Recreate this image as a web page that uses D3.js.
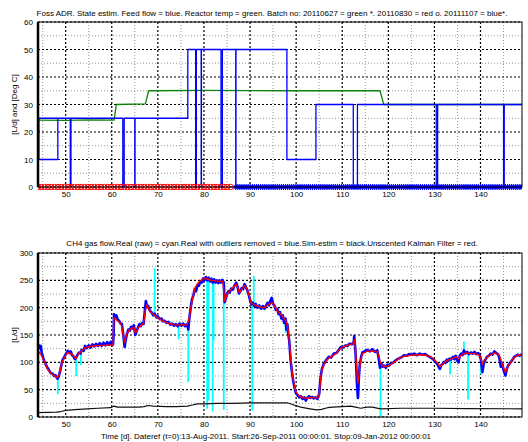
<!DOCTYPE html>
<html>
<head>
<meta charset="utf-8">
<script src="https://cdn.jsdelivr.net/npm/d3@7"></script>
<style>
  body { margin: 0; background: #fff; }
  svg { display: block; }
  text { font-family: "Liberation Sans", Arial, sans-serif; }
</style>
</head>
<body>
<div id="chart"></div>
<script>
////////////////////////////////////////////////////////////////////////
// Data

// time axis [d], shared by both panels
let timeRange = [44, 149];
let xTickValues = [50, 60, 70, 80, 90, 100, 110, 120, 130, 140];
let xMinorValues = [45, 55, 65, 75, 85, 95, 105, 115, 125, 135, 145];

let topYTicks = [0, 10, 20, 30, 40, 50, 60];
let topYMinor = [5, 15, 25, 35, 45, 55];
let botYTicks = [0, 50, 100, 150, 200, 250, 300];
let botYMinor = [25, 75, 125, 175, 225, 275];

// feed flow [L/d] (blue), step signal with short stops
let feedFlow = [
  [44.0, 25], [48.3, 25], [48.3, 10], [44.2, 10], [44.2, 25], [51.0, 25], [51.0, 0], [51.15, 0], [51.15, 25],
  [62.4, 25], [62.4, 0], [62.7, 0], [62.7, 25], [65.0, 25], [65.0, 0], [65.05, 0], [65.05, 25],
  [76.5, 25], [76.5, 50], [78.2, 50], [78.2, 0], [78.35, 0], [78.35, 50], [79.4, 50], [79.4, 0], [79.45, 0], [79.45, 50],
  [83.7, 50], [83.7, 0], [84.0, 0], [84.0, 50], [86.9, 50], [86.9, 0], [86.95, 0], [86.95, 50],
  [98.0, 50], [98.0, 10], [104.3, 10], [104.3, 30], [112.4, 30], [112.4, 0], [113.3, 0], [113.3, 30],
  [130.4, 30], [130.4, 0], [130.7, 0], [130.7, 30], [145.0, 30], [145.0, 0], [145.15, 0], [145.15, 30], [149, 30]
];

// reactor temperature [Deg C] (green)
let reactorTemp = [
  [44, 24.3], [50, 24.2], [55, 24.4], [60.5, 24.3], [61.0, 30], [67.3, 30.2], [68.0, 35],
  [80, 35.1], [100, 35], [118.2, 35], [119.0, 30], [149, 30]
];

// batch periods, marked at zero in the top panel
let batchNames = ["20110627", "20110830", "20111107"];
let batchStart = [null, 44.0, 86.9];
let batchEnd = [null, 86.4, 149];
let batchSample = [0.72, 0.72, 0.45];

// CH4 gas flow, Unscented Kalman Filter (red)
let ukfFlow = [
  [44.0, 0], [44.02, 122], [44.3, 118], [44.6, 115], [45.1, 106], [46.1, 87], [47.2, 77], [48.2, 72], [48.6, 77],
  [49.3, 102], [50.4, 118], [51.4, 115], [51.8, 110], [52.3, 107], [52.8, 116], [53.3, 119], [54.2, 127], [55.3, 129],
  [56.3, 130], [57.5, 131], [58.5, 131], [59.5, 132], [60.3, 131], [60.45, 182], [60.7, 180], [61.3, 176], [61.8, 172],
  [62.1, 169], [62.5, 148], [62.8, 136], [63.2, 151], [63.7, 158], [64.1, 161], [64.8, 164], [65.1, 154], [65.5, 158],
  [65.8, 164], [66.4, 168], [66.9, 172], [67.3, 196], [67.6, 205], [67.9, 200], [68.3, 193], [69.0, 188], [69.7, 183],
  [70.2, 180], [71.1, 176], [72.4, 171], [73.5, 169], [74.5, 168], [75.5, 169], [76.3, 168], [76.8, 181], [77.4, 212],
  [78.1, 237], [78.8, 246], [79.5, 251], [80.2, 254], [80.9, 252], [81.6, 250], [82.4, 249], [83.1, 248], [83.7, 249],
  [84.1, 248], [84.5, 212], [84.8, 220], [85.2, 227], [85.8, 233], [86.3, 237], [87.0, 243], [87.4, 235], [87.7, 227],
  [88.2, 234], [88.8, 240], [89.2, 236], [89.5, 231], [89.9, 220], [90.2, 209], [90.9, 205], [91.6, 203], [92.4, 201],
  [93.1, 200], [93.6, 203], [94.1, 206], [94.9, 209], [95.4, 202], [95.9, 194], [96.5, 189], [97.0, 185], [97.7, 176],
  [98.1, 168], [98.4, 150], [98.8, 108], [99.1, 85], [99.4, 67], [99.9, 47], [100.5, 40], [101.0, 37], [101.8, 35],
  [102.4, 34], [103.1, 36], [103.8, 35], [104.6, 35], [105.0, 40], [105.3, 70], [105.6, 86], [106.0, 96], [106.5, 103],
  [107.1, 108], [108.2, 113], [109.0, 120], [109.7, 126], [110.4, 129], [111.1, 131], [111.8, 133], [112.5, 135],
  [112.7, 142], [112.9, 120], [113.2, 80], [113.4, 62], [113.6, 75], [113.8, 92], [114.1, 108], [114.4, 116], [115.4, 120],
  [116.5, 121], [117.6, 119], [118.0, 110], [118.3, 99], [118.7, 94], [119.1, 92], [119.8, 93], [120.5, 96], [121.2, 100],
  [122.0, 105], [122.7, 109], [123.4, 111], [125.0, 113], [127.0, 114], [128.2, 113], [129.2, 110], [129.8, 106],
  [130.3, 102], [130.8, 97], [131.2, 92], [131.7, 96], [132.1, 99], [132.7, 103], [133.2, 105], [134.2, 108], [134.8, 110],
  [135.2, 106], [135.7, 112], [136.4, 116], [137.1, 117], [137.8, 116], [138.6, 116], [139.3, 115], [140.0, 111],
  [140.4, 96], [140.8, 104], [141.5, 110], [142.2, 114], [143.0, 117], [143.5, 116], [144.0, 114], [144.4, 106],
  [144.7, 96], [145.1, 88], [145.4, 82], [145.9, 92], [146.5, 99], [147.0, 106], [147.6, 111], [148.3, 113], [149.0, 114]
];

// CH4 gas flow, real with outliers removed (blue)
let realFlow = [
  [44.0, 127], [44.2, 131], [44.4, 126], [44.6, 130], [44.8, 118], [45.1, 109], [45.4, 101], [45.8, 94], [46.1, 89],
  [46.5, 84], [46.8, 80], [47.2, 79], [47.5, 75], [47.8, 76], [48.2, 70], [48.5, 74], [48.8, 84], [49.1, 96], [49.3, 104],
  [49.6, 108], [49.9, 113], [50.2, 117], [50.5, 121], [50.8, 117], [51.1, 120], [51.4, 113], [51.7, 111], [52.0, 106],
  [52.3, 109], [52.6, 114], [52.9, 118], [53.2, 116], [53.5, 123], [53.9, 121], [54.2, 130], [54.6, 126], [55.0, 131],
  [55.4, 127], [55.8, 133], [56.2, 129], [56.6, 134], [57.0, 130], [57.4, 135], [57.8, 130], [58.2, 136], [58.6, 131],
  [59.0, 137], [59.4, 132], [59.8, 138], [60.1, 131], [60.3, 134], [60.4, 150], [60.5, 188], [60.7, 183], [61.0, 186],
  [61.3, 178], [61.6, 176], [61.9, 171], [62.2, 170], [62.5, 150], [62.8, 128], [63.0, 140], [63.3, 152], [63.6, 160],
  [63.9, 158], [64.2, 165], [64.5, 162], [64.8, 168], [65.1, 150], [65.4, 157], [65.7, 164], [66.0, 170], [66.3, 166],
  [66.6, 172], [66.9, 170], [67.2, 196], [67.4, 212], [67.6, 204], [67.9, 203], [68.3, 194], [68.6, 192], [69.0, 186],
  [69.3, 189], [69.7, 182], [70.0, 184], [70.4, 179], [70.8, 180], [71.1, 175], [71.5, 176], [71.9, 172], [72.3, 174],
  [72.7, 169], [73.1, 171], [73.5, 167], [73.9, 170], [74.3, 166], [74.7, 171], [75.1, 167], [75.5, 171], [75.9, 166],
  [76.3, 170], [76.6, 160], [76.8, 178], [77.0, 192], [77.2, 204], [77.4, 215], [77.7, 222], [78.0, 234], [78.3, 230],
  [78.6, 242], [78.9, 240], [79.2, 248], [79.5, 246], [79.8, 253], [80.1, 250], [80.4, 256], [80.7, 250], [81.0, 255],
  [81.3, 248], [81.6, 253], [81.9, 246], [82.2, 252], [82.5, 246], [82.8, 250], [83.1, 245], [83.4, 250], [83.7, 246],
  [84.0, 251], [84.3, 246], [84.5, 210], [84.7, 216], [85.0, 224], [85.3, 230], [85.6, 228], [85.9, 235], [86.3, 233],
  [86.6, 240], [87.0, 246], [87.3, 238], [87.6, 226], [87.9, 230], [88.2, 236], [88.5, 234], [88.8, 243], [89.1, 238],
  [89.4, 232], [89.7, 224], [90.0, 214], [90.3, 206], [90.6, 209], [90.9, 203], [91.2, 207], [91.6, 200], [92.0, 204],
  [92.4, 198], [92.8, 203], [93.1, 198], [93.5, 204], [93.8, 209], [94.1, 204], [94.4, 212], [94.7, 218], [95.0, 207],
  [95.3, 204], [95.6, 196], [95.9, 198], [96.2, 188], [96.5, 192], [96.8, 180], [97.1, 186], [97.4, 172], [97.7, 180],
  [97.9, 160], [98.1, 170], [98.3, 152], [98.5, 140], [98.8, 104], [99.1, 82], [99.4, 64], [99.7, 52], [99.9, 45],
  [100.3, 40], [100.7, 36], [101.0, 38], [101.4, 33], [101.8, 36], [102.1, 30], [102.4, 35], [102.8, 38], [103.1, 35],
  [103.5, 37], [103.8, 34], [104.2, 36], [104.6, 33], [105.0, 42], [105.3, 72], [105.6, 88], [106.0, 97], [106.5, 104],
  [107.1, 110], [107.6, 109], [108.2, 116], [108.7, 117], [109.2, 122], [109.7, 128], [110.2, 127], [110.7, 131],
  [111.1, 130], [111.6, 134], [112.1, 133], [112.5, 137], [112.6, 148], [112.8, 128], [113.0, 100], [113.2, 60],
  [113.4, 35], [113.6, 70], [113.8, 95], [114.1, 110], [114.4, 118], [114.8, 120], [115.4, 123], [116.0, 120],
  [116.5, 124], [117.1, 119], [117.6, 122], [117.9, 108], [118.2, 90], [118.5, 98], [118.8, 92], [119.1, 94], [119.5, 90],
  [119.8, 96], [120.2, 94], [120.5, 98], [121.0, 99], [121.5, 103], [122.0, 106], [122.5, 108], [123.0, 110], [123.4, 113],
  [124.0, 112], [124.5, 115], [125.0, 114], [125.6, 116], [126.2, 113], [126.8, 116], [127.4, 114], [128.0, 115],
  [128.5, 112], [129.0, 110], [129.5, 107], [129.9, 104], [130.3, 100], [130.7, 96], [131.0, 90], [131.2, 88], [131.5, 95],
  [131.8, 97], [132.1, 101], [132.4, 99], [132.7, 105], [133.0, 103], [133.3, 107], [133.6, 105], [134.0, 110], [134.3, 106],
  [134.6, 112], [134.9, 104], [135.2, 100], [135.5, 112], [135.8, 116], [136.1, 113], [136.4, 122], [136.7, 116],
  [137.1, 119], [137.5, 115], [137.9, 118], [138.3, 116], [138.7, 119], [139.1, 115], [139.5, 117], [139.8, 113],
  [140.1, 105], [140.4, 82], [140.7, 98], [141.0, 104], [141.4, 110], [141.8, 112], [142.2, 116], [142.6, 114],
  [143.0, 120], [143.4, 117], [143.8, 115], [144.1, 108], [144.4, 92], [144.7, 98], [145.0, 86], [145.4, 76], [145.7, 88],
  [146.0, 94], [146.5, 100], [146.9, 104], [147.3, 110], [147.7, 112], [148.1, 114], [148.5, 112], [149.0, 115]
];

// raw outliers (cyan): [time, flow before, outlier value]
let rawOutliers = [
  [48.3, 72, 42], [52.3, 108, 75], [53.3, 117, 95], [69.3, 187, 272], [74.5, 168, 142], [76.6, 166, 64],
  [80.7, 254, 15], [81.0, 253, 30], [81.9, 250, 10], [82.1, 250, 140], [84.3, 248, 13], [90.5, 212, 12],
  [90.8, 205, 258], [97.7, 180, 154], [113.5, 60, 34], [118.3, 95, 0], [133.4, 105, 78], [136.4, 118, 138],
  [137.3, 118, 32], [140.1, 108, 78], [145.3, 82, 74]
];

// simulated estimate (black)
let simFlow = [
  [44, 8], [46, 8.5], [48, 9], [49, 10], [50, 12], [52, 13.5], [54.7, 15], [57, 16], [59.8, 17], [60.5, 20], [61.2, 18],
  [63, 18], [66, 18], [67, 19], [67.8, 21], [69, 20], [72, 19], [74, 19], [76.4, 20], [77.5, 22], [78.6, 24], [80, 24],
  [82.9, 25], [86.5, 25], [90, 26], [95, 26], [98.1, 26], [99.5, 22], [101, 18], [103, 15], [104.5, 13], [105.5, 14],
  [106.8, 17], [108, 18], [111.8, 20], [112.9, 18], [114, 16], [115.4, 18], [116.5, 18], [118.3, 15], [122.7, 16],
  [130, 16], [137.1, 15.5], [149, 15]
];

let topTitle = "Foss ADR. State estim. Feed flow = blue. Reactor temp = green. Batch no: 20110627 = green *. 20110830 = red o. 20111107 = blue*.";
let botTitle = "CH4 gas flow.Real (raw) = cyan.Real with outliers removed = blue.Sim-estim = black.Unscented Kalman Filter = red.";
let xLabel = "Time [d]. Dateref (t=0):13-Aug-2011. Start:26-Sep-2011 00:00:01. Stop:09-Jan-2012 00:00:01";

////////////////////////////////////////////////////////////////////////
// Layout and helpers

let svgW = 528, svgH = 442;
let plotLeft = 38, plotRight = 522;

let svg = d3.select("#chart")
  .append("svg")
  .attr("width", svgW)
  .attr("height", svgH);

let clipCount = 0;

// builds one panel: grid, tick labels, clip area; returns scales and data group
function createPanel(top, bottom, yMax, yTicks, yMinor) {
  let x = d3.scaleLinear().domain(timeRange).range([plotLeft, plotRight]);
  let y = d3.scaleLinear().domain([0, yMax]).range([bottom, top]);
  let g = svg.append("g");

  // minor grid (thin dots)
  let minor = g.append("g")
    .attr("stroke", "#555")
    .attr("stroke-width", 0.6)
    .attr("stroke-dasharray", "1,2");
  minor.selectAll(".vx").data(xMinorValues).enter().append("line")
    .attr("x1", d => x(d)).attr("x2", d => x(d)).attr("y1", top).attr("y2", bottom);
  minor.selectAll(".hy").data(yMinor).enter().append("line")
    .attr("x1", plotLeft).attr("x2", plotRight).attr("y1", d => y(d)).attr("y2", d => y(d));

  // major grid (heavy dots)
  let major = g.append("g")
    .attr("stroke", "#000")
    .attr("stroke-width", 1.2)
    .attr("stroke-dasharray", "2,2");
  major.selectAll(".vx").data(xTickValues).enter().append("line")
    .attr("x1", d => x(d)).attr("x2", d => x(d)).attr("y1", top).attr("y2", bottom);
  major.selectAll(".hy").data(yTicks).enter().append("line")
    .attr("x1", plotLeft).attr("x2", plotRight).attr("y1", d => y(d)).attr("y2", d => y(d));

  // tick labels
  let yAxis = g.append("g")
    .attr("transform", "translate(" + plotLeft + ",0)")
    .call(d3.axisLeft(y).tickValues(yTicks).tickSize(0).tickPadding(5));
  let xAxis = g.append("g")
    .attr("transform", "translate(0," + bottom + ")")
    .call(d3.axisBottom(x).tickValues(xTickValues).tickSize(0).tickPadding(4));
  [yAxis, xAxis].forEach(function(a) {
    a.select(".domain").remove();
    a.selectAll("text").attr("font-size", 8).attr("fill", "#000")
      .attr("font-family", "'Liberation Sans', Arial, sans-serif");
  });

  let id = "clip" + (clipCount++);
  svg.append("clipPath").attr("id", id)
    .append("rect")
    .attr("x", plotLeft).attr("y", top - 1)
    .attr("width", plotRight - plotLeft).attr("height", bottom - top + 4);
  let data = svg.append("g").attr("clip-path", "url(#" + id + ")");

  return { x: x, y: y, top: top, bottom: bottom, data: data };
}

// axes box drawn after the data; MATLAB left spine looks heavy here
function drawFrame(p) {
  svg.append("rect")
    .attr("x", plotLeft).attr("y", p.top)
    .attr("width", plotRight - plotLeft).attr("height", p.bottom - p.top)
    .attr("fill", "none").attr("stroke", "#000").attr("stroke-width", 1);
  svg.append("line")
    .attr("x1", plotLeft).attr("x2", plotLeft)
    .attr("y1", p.top).attr("y2", p.bottom)
    .attr("stroke", "#000").attr("stroke-width", 2.5);
}

function drawLine(p, pts, color, width) {
  let line = d3.line().x(d => p.x(d[0])).y(d => p.y(d[1]));
  p.data.append("path")
    .attr("d", line(pts))
    .attr("fill", "none")
    .attr("stroke", color)
    .attr("stroke-width", width)
    .attr("stroke-linejoin", "round");
}

////////////////////////////////////////////////////////////////////////
// Top panel: feed flow, reactor temperature, batch markers

let topPanel = createPanel(22, 187, 60, topYTicks, topYMinor);

drawLine(topPanel, reactorTemp, "#0a840a", 1.3);
drawLine(topPanel, feedFlow, "#0000ff", 1.3);

// batch markers at zero (red circles, blue asterisks)
let redBatch = d3.range(batchStart[1], batchEnd[1], batchSample[1]);
topPanel.data.append("g").selectAll("circle")
  .data(redBatch)
  .enter()
  .append("circle")
  .attr("cx", d => topPanel.x(d))
  .attr("cy", topPanel.y(0))
  .attr("r", 2.7)
  .attr("fill", "none")
  .attr("stroke", "#ff0000")
  .attr("stroke-width", 1);

let blueBatch = d3.range(batchStart[2], batchEnd[2] + 0.01, batchSample[2]);
let asterisk = "M-3,0H3M0,-3V3M-2.2,-2.2L2.2,2.2M-2.2,2.2L2.2,-2.2";
topPanel.data.append("g").selectAll("path")
  .data(blueBatch)
  .enter()
  .append("path")
  .attr("transform", d => "translate(" + topPanel.x(d) + "," + topPanel.y(0) + ")")
  .attr("d", asterisk)
  .attr("stroke", "#0000ff")
  .attr("stroke-width", 1)
  .attr("fill", "none");

drawFrame(topPanel);

svg.append("text")
  .attr("x", 272).attr("y", 15.5)
  .attr("text-anchor", "middle")
  .attr("font-size", 8)
  .text(topTitle);

svg.append("text")
  .attr("transform", "translate(17," + ((22 + 187) / 2) + ") rotate(-90)")
  .attr("text-anchor", "middle")
  .attr("font-size", 8)
  .text("[L/d] and [Deg C]");

////////////////////////////////////////////////////////////////////////
// Bottom panel: CH4 gas flow

let botPanel = createPanel(253, 417, 300, botYTicks, botYMinor);

// raw outliers first so the filtered data sits on top
botPanel.data.append("g").selectAll("line")
  .data(rawOutliers)
  .enter()
  .append("line")
  .attr("x1", d => botPanel.x(d[0])).attr("x2", d => botPanel.x(d[0]))
  .attr("y1", d => botPanel.y(d[1])).attr("y2", d => botPanel.y(d[2]))
  .attr("stroke", "#00ffff")
  .attr("stroke-width", 1.8);

drawLine(botPanel, realFlow, "#0000ff", 2.6);
drawLine(botPanel, ukfFlow, "#ff0000", 1.4);
drawLine(botPanel, simFlow, "#111", 1.2);

drawFrame(botPanel);

svg.append("text")
  .attr("x", 272).attr("y", 245.5)
  .attr("text-anchor", "middle")
  .attr("font-size", 8)
  .text(botTitle);

svg.append("text")
  .attr("transform", "translate(17," + ((253 + 417) / 2) + ") rotate(-90)")
  .attr("text-anchor", "middle")
  .attr("font-size", 8)
  .text("[L/d]");

svg.append("text")
  .attr("x", 266).attr("y", 439)
  .attr("text-anchor", "middle")
  .attr("font-size", 8)
  .text(xLabel);
</script>
</body>
</html>
